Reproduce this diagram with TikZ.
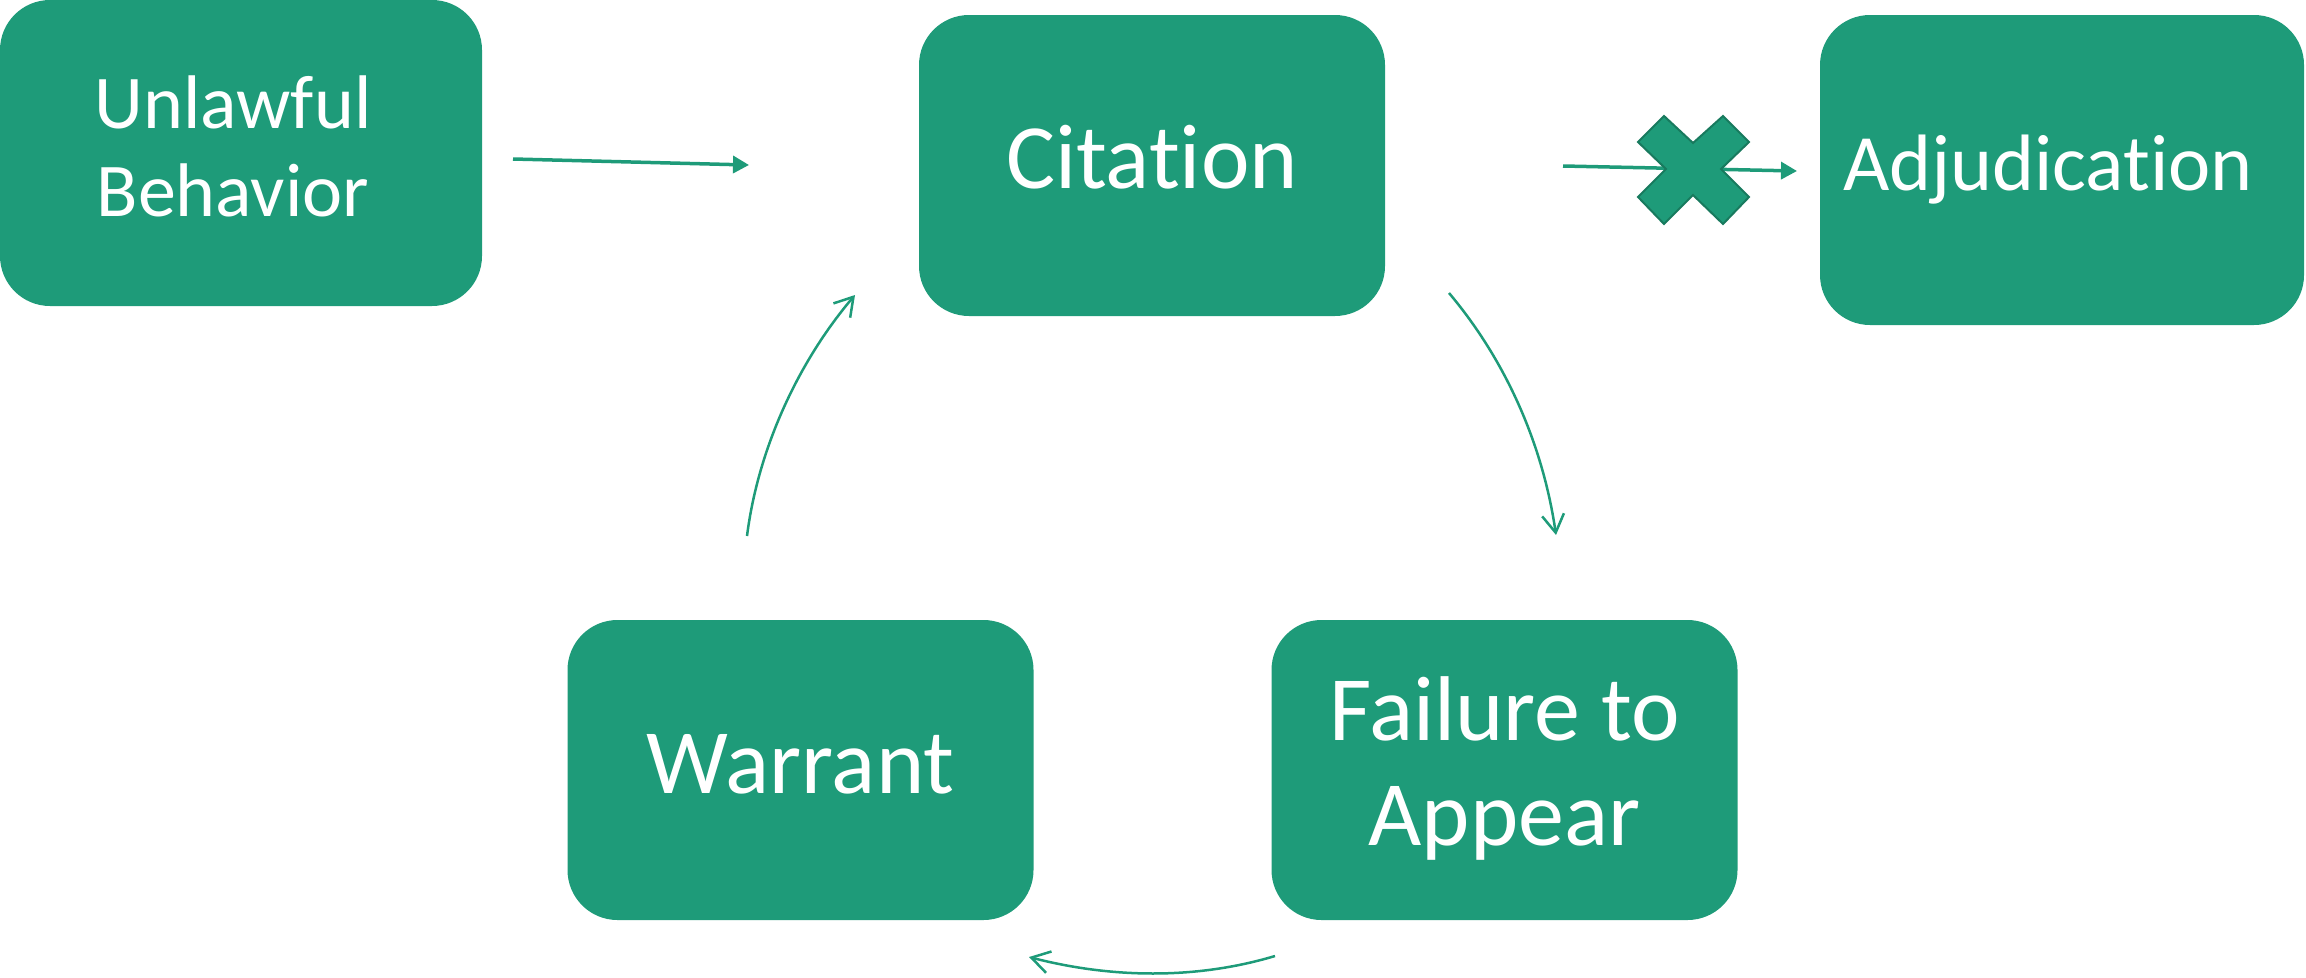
\documentclass[tikz,border=0pt]{standalone}
\usepackage{fontspec}
\setmainfont{Carlito}[Ligatures={NoCommon}]
\usetikzlibrary{arrows.meta}
\definecolor{boxgreen}{RGB}{30,155,121}
\definecolor{xedge}{RGB}{24,122,94}
\newcommand{\topstrutx}{\rule{0pt}{0.75em}}
\newcommand{\botstrutx}{\rule[-0.25em]{0pt}{0.25em}}
\begin{document}
\begin{tikzpicture}[x=1pt,y=-1pt,
  gbox/.style={draw=none, fill=boxgreen, rounded corners=50pt, inner sep=0pt},
  lbl/.style={text=white, align=center, inner sep=0pt},
  bigtext/.style={font=\fontsize{92}{105}\selectfont},
  smalltext/.style={font=\fontsize{76}{88}\selectfont},
  straightarrow/.style={draw=boxgreen, line width=3.5pt, -{Triangle[length=16pt,width=17pt]}},
  curvearrow/.style={draw=boxgreen, line width=2.5pt, -{Straight Barb[length=18pt,width=22pt]}}
]
\useasboundingbox (0,0) rectangle (2306,977);

% boxes
\node[gbox, minimum width=482pt, minimum height=306pt] (unl) at (241,153) {};
\node[gbox, minimum width=466pt, minimum height=301pt] (cit) at (1152,165.5) {};
\node[gbox, minimum width=484pt, minimum height=310pt] (adj) at (2062,170) {};
\node[gbox, minimum width=466pt, minimum height=300pt] (war) at (800.5,770) {};
\node[gbox, minimum width=466pt, minimum height=300pt] (fta) at (1504.5,770) {};

% labels
\node[lbl, smalltext] (unlT) at ([xshift=-8pt]unl.center) {\topstrutx Unlawful\\ Behavior\botstrutx};
\node[lbl, bigtext] (citT) at (cit.center) {\topstrutx Citation\botstrutx};
\node[lbl, font=\fontsize{80}{92}\selectfont] (adjT) at ([xshift=-14pt]adj.center) {\topstrutx Adjudication\botstrutx};
\node[lbl, bigtext] (warT) at (war.center) {\topstrutx Warrant\botstrutx};
\node[lbl, bigtext] (ftaT) at (fta.center) {\topstrutx Failure to\\ Appear\botstrutx};

% connector end points
\coordinate (ucS) at (513,159);
\coordinate (ucE) at (749,165);
\coordinate (caS) at (1563,166);
\coordinate (caE) at (1797,171);
\coordinate (cfS) at (1449,293);
\coordinate (cfE) at (1556,535);
\coordinate (fwS) at (1275,956);
\coordinate (fwE) at (1029,957);
\coordinate (wcS) at (747,536);
\coordinate (wcE) at (855,295);

% straight arrows
\draw[straightarrow] (ucS) -- (ucE);
\draw[straightarrow] (caS) -- (caE);

% blocking cross
\draw[fill=boxgreen, draw=xedge, line width=2pt, line join=miter]
  (1638,142) -- (1664,116) -- (1693,143) -- (1723,116) -- (1749,142) -- (1721,169)
  -- (1749,197) -- (1723,224) -- (1693,195) -- (1664,224) -- (1638,197) -- (1666,169) -- cycle;

% curved cycle arrows
\draw[curvearrow] (cfS) .. controls (1507,362) and (1543,446) .. (cfE);
\draw[curvearrow] (fwS) .. controls (1195,980) and (1110,978) .. (fwE);
\draw[curvearrow] (wcS) .. controls (758,449) and (798,362) .. (wcE);
\end{tikzpicture}
\end{document}
